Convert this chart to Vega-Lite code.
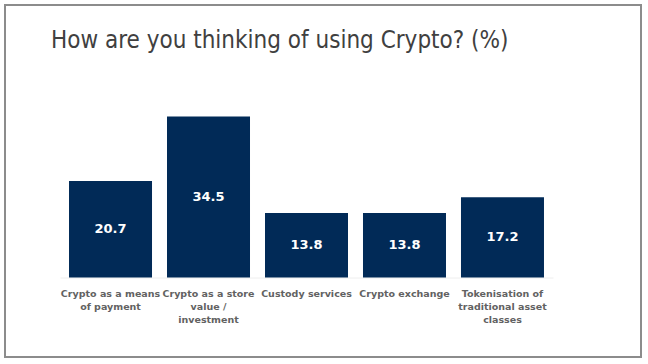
{
  "$schema": "https://vega.github.io/schema/vega-lite/v6.json",
  "autosize": {"type": "none"},
  "width": 636,
  "height": 352,
  "padding": {"left": 5, "top": 5, "right": 7, "bottom": 7},
  "background": "#ffffff",
  "config": {
    "view": {"stroke": "#8c8c8c", "strokeWidth": 2},
    "font": "DejaVu Sans"
  },
  "title": {
    "text": "How are you thinking of using Crypto? (%)",
    "anchor": "start",
    "dx": 46,
    "dy": 52,
    "font": "DejaVu Sans Condensed",
    "fontSize": 24,
    "fontWeight": "normal",
    "color": "#404040"
  },
  "data": {
    "values": [
      {"category": "Crypto as a means|of payment", "value": 20.7},
      {"category": "Crypto as a store|value /|investment", "value": 34.5},
      {"category": "Custody services", "value": 13.8},
      {"category": "Crypto exchange", "value": 13.8},
      {"category": "Tokenisation of|traditional asset|classes", "value": 17.2}
    ]
  },
  "transform": [{"calculate": "datum.value / 2", "as": "mid"}],
  "encoding": {
    "x": {
      "field": "category",
      "type": "nominal",
      "sort": null,
      "scale": {"range": [55, 548], "paddingInner": 0.153, "paddingOuter": 0.092},
      "axis": {
        "title": null,
        "orient": "bottom",
        "offset": -79.5,
        "labelAngle": 0,
        "labelExpr": "split(datum.value, '|')",
        "labelFont": "DejaVu Sans",
        "labelFontSize": 9.5,
        "labelFontWeight": "bold",
        "labelColor": "#626262",
        "labelLineHeight": 13,
        "labelPadding": 16,
        "labelBaseline": "middle",
        "ticks": false,
        "domainColor": "#eeeeee",
        "domainWidth": 1,
        "grid": false
      }
    }
  },
  "layer": [
    {
      "mark": {"type": "bar", "color": "#012a57"},
      "encoding": {
        "y": {
          "field": "value",
          "type": "quantitative",
          "scale": {"domain": [0, 36], "range": [272.5, 104.5]},
          "axis": null
        }
      }
    },
    {
      "mark": {"type": "text", "color": "#ffffff", "fontWeight": "bold", "fontSize": 13, "font": "DejaVu Sans", "baseline": "middle"},
      "encoding": {
        "y": {"field": "mid", "type": "quantitative", "scale": {"domain": [0, 36], "range": [272.5, 104.5]}, "axis": null},
        "text": {"field": "value", "type": "quantitative", "format": ".1f"}
      }
    }
  ]
}
